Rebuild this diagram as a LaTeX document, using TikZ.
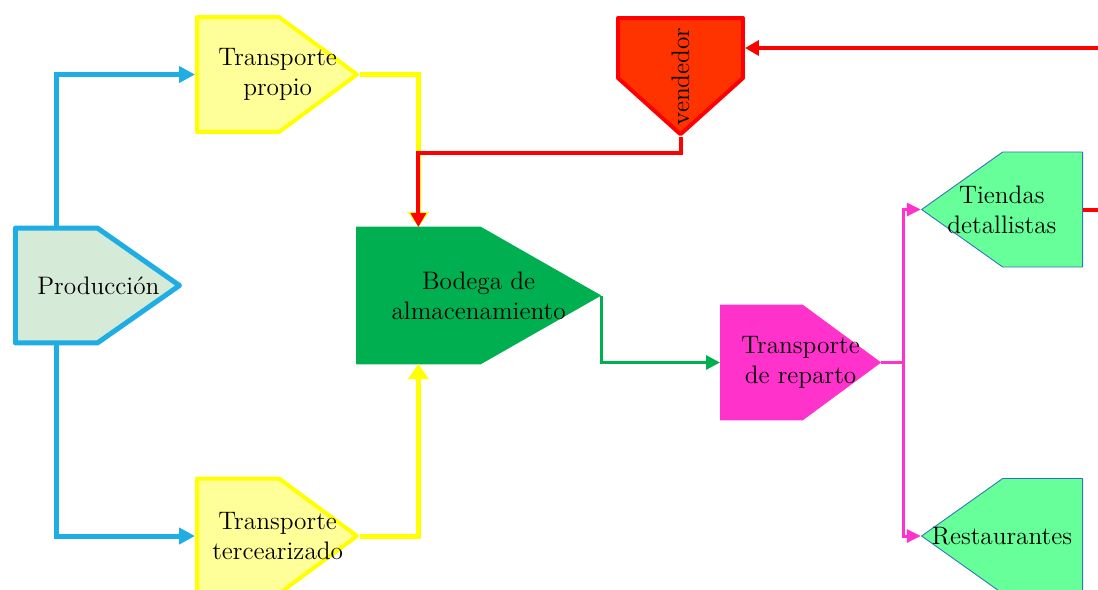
\documentclass[tikz,border=0pt]{standalone}
\usepackage{amsmath}
\usetikzlibrary{
    arrows.meta,
    calc,
    shapes.symbols
}

\definecolor{prodFill}{HTML}{D6EAD8}
\definecolor{prodLine}{HTML}{1FAEE4}
\definecolor{tranFill}{HTML}{FFFF99}
\definecolor{tranLine}{HTML}{FFFF00}
\definecolor{bodFill}{HTML}{00B050}
\definecolor{repFill}{HTML}{FF33CC}
\definecolor{vendFill}{HTML}{FF3300}
\definecolor{vendLine}{HTML}{FF0000}
\definecolor{tiendaFill}{HTML}{66FF99}
\definecolor{tiendaLine}{HTML}{2E75B6}

\tikzset{
    % --- Stage shape (pentagon pointing to the next stage) ---
    stage/.style = {
        signal, signal from=nowhere, inner sep=0pt,
        minimum width=3.2cm, minimum height=2.3cm,
        line join=round
    },
    % --- Text set inside a stage ---
    stage text/.style = {
        font=\fontsize{14.4}{17}\selectfont,
        align=center, inner sep=0pt
    },
    % --- Stage colours ---
    prod stage/.style = {
        stage, fill=prodFill, draw=prodLine, line width=0.1cm
    },
    tran stage/.style = {
        stage, fill=tranFill, draw=tranLine, line width=0.08cm,
        signal pointer angle=72.8
    },
    bod stage/.style = {
        stage, fill=bodFill, draw=bodFill, line width=0.5pt
    },
    rep stage/.style = {
        stage, fill=repFill, draw=repFill, line width=0.5pt,
        signal pointer angle=72.8
    },
    vend stage/.style = {
        stage, fill=vendFill, draw=vendLine, line width=0.08cm
    },
    client stage/.style = {
        stage, signal to=west, fill=tiendaFill, draw=tiendaLine,
        line width=0.5pt, signal pointer angle=70.7,
        minimum width=3.22cm
    },
    % --- Flow connectors ---
    prod arrow/.style = {
        draw=prodLine, line width=0.1cm,
        -{Triangle[length=0.32cm, width=0.32cm]}
    },
    tran arrow/.style = {
        draw=tranLine, line width=0.1cm,
        -{Triangle[length=0.3cm, width=0.4cm]}
    },
    vend arrow/.style = {
        draw=vendLine, line width=0.08cm,
        -{Triangle[length=0.28cm, width=0.3cm]}
    },
    bod arrow/.style = {
        draw=bodFill, line width=0.06cm,
        -{Triangle[length=0.28cm, width=0.28cm]}
    },
    rep line/.style = {
        draw=repFill, line width=0.06cm
    },
    rep arrow/.style = {
        rep line, -{Triangle[length=0.28cm, width=0.26cm]}
    }
}

\begin{document}
\begin{tikzpicture}[x=0.02cm, y=-0.02cm]
\useasboundingbox (0,0) rectangle (1098,589);
\clip (0,0) rectangle (1098,589);

% ---------------------------------------------------------
% Stages
% ---------------------------------------------------------
\node[prod stage, minimum width=3.28cm, signal pointer angle=70,
    anchor=west] (Prod) at (13,285.5) {};

\node[tran stage, anchor=west] (TProp) at (195,74.5) {};
\node[tran stage, anchor=west] (TTerc) at (195,536) {};

\node[bod stage, minimum width=4.88cm, minimum height=2.74cm,
    signal pointer angle=59.4, anchor=west] (Bod) at (356,295.5) {};

\node[rep stage, anchor=west] (Rep) at (720,362.5) {};

\node[vend stage, signal to=south, minimum width=2.5cm,
    minimum height=1.2cm, signal pointer angle=96,
    anchor=north] (Vend) at (680.5,16) {};

\node[client stage, anchor=east] (Tiend) at (1083,209.5) {};
\node[client stage, anchor=east] (Rest) at (1083,536) {};

% ---------------------------------------------------------
% Stage names
% ---------------------------------------------------------
\node[stage text] (ProdText)  at ($(Prod.west)!0.5!(Prod.east)$) {Producción};
\node[stage text] (TPropText) at ($(TProp.west)!0.5!(TProp.east)$) {Transporte\\propio};
\node[stage text] (TTercText) at ($(TTerc.west)!0.5!(TTerc.east)$) {Transporte\\tercearizado};
\node[stage text] (BodText)   at ($(Bod.west)!0.5!(Bod.east)$) {Bodega de\\almacenamiento};
\node[stage text] (RepText)   at ($(Rep.west)!0.5!(Rep.east)$) {Transporte\\de reparto};
\node[stage text, rotate=90] (VendText) at ($(Vend.north)!0.5!(Vend.south)$) {vendedor};
\node[stage text] (TiendText) at ($(Tiend.west)!0.5!(Tiend.east)$) {Tiendas\\detallistas};
\node[stage text] (RestText)  at ($(Rest.west)!0.5!(Rest.east)$) {Restaurantes};

% ---------------------------------------------------------
% Entry points on the stages
% ---------------------------------------------------------
\coordinate (ProdUp)   at ($(Prod.center)+(0,-57.5)$);
\coordinate (ProdDown) at ($(Prod.center)+(0,57.5)$);
\coordinate (BodUp)    at ($(Bod.center)+(0,-68.5)$);
\coordinate (BodDown)  at ($(Bod.center)+(0,68.5)$);

% ---------------------------------------------------------
% Flow between stages
% ---------------------------------------------------------
\draw[prod arrow] (ProdUp) |- (TProp.west);
\draw[prod arrow] (ProdDown) |- (TTerc.west);

\draw[tran arrow] (TProp.east) -| (BodUp);
\draw[tran arrow] (TTerc.east) -| (BodDown);

\draw[vend arrow] (Vend.south) -- ++(0,16) -| (BodUp);

\draw[bod arrow] (Bod.east) |- (Rep.west);

\draw[rep line] (Rep.east) -- ++(22,0) coordinate (RepSplit);
\draw[rep arrow] (RepSplit) |- (Tiend.west);
\draw[rep arrow] (RepSplit) |- (Rest.west);

% back to the seller
\draw[vend arrow] (Tiend.east) -- ++(40,0) |- (Vend.east);

\end{tikzpicture}
\end{document}
